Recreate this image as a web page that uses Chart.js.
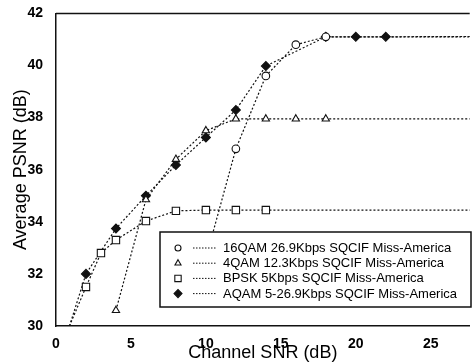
<!DOCTYPE html>
<html>
<head>
<meta charset="utf-8">
<script src="https://cdn.jsdelivr.net/npm/chart.js@4/dist/chart.umd.min.js"></script>
<style>
  body { margin: 0; background: #fff; }
  #wrap { width: 475px; height: 362px; }
</style>
</head>
<body>
<div id="wrap"><canvas id="psnrChart" width="475" height="362"></canvas></div>
<script>
// values
const labels = [
  '16QAM 26.9Kbps SQCIF Miss-America',
  '4QAM 12.3Kbps SQCIF Miss-America',
  'BPSK 5Kbps SQCIF Miss-America',
  'AQAM 5-26.9Kbps SQCIF Miss-America'
]
const snr16 = [10, 12, 14, 16, 18, 30]
const psnr16 = [32.6, 36.8, 39.6, 40.8, 41.1, 41.1]
const snr4 = [4, 6, 8, 10, 12, 14, 16, 18, 30]
const psnr4 = [30.6, 34.85, 36.4, 37.5, 37.95, 37.95, 37.95, 37.95, 37.95]
const snrBpsk = [0.9, 2, 3, 4, 6, 8, 10, 12, 14, 30]
const psnrBpsk = [30, 31.5, 32.8, 33.3, 34.03, 34.42, 34.45, 34.45, 34.45, 34.45]
const snrAqam = [0.9, 2, 4, 6, 8, 10, 12, 14, 18, 20, 22, 30]
const psnrAqam = [30, 32, 33.74, 35.0, 36.18, 37.24, 38.29, 39.98, 41.1, 41.1, 41.1, 41.12]
const xTicks = [0, 5, 10, 15, 20, 25]
const yTicks = [30, 32, 34, 36, 38, 40, 42]

const toPoints = (xs, ys) => xs.map((x, i) => ({ x: x, y: ys[i] }))
// no marker on the line ends that run off the plot
const radii = (xs, r) => xs.map(x => (x < 1 || x > 28) ? 0 : r)

const ink = '#111'
const fontFam = '"Liberation Sans", Arial, sans-serif'

const makeSet = (label, xs, ys, style, r, fill) => ({
  label: label,
  data: toPoints(xs, ys),
  showLine: true,
  borderColor: ink,
  borderWidth: 1.2,
  borderDash: [2, 2],
  pointStyle: style,
  pointRadius: radii(xs, r),
  pointBackgroundColor: fill,
  pointBorderColor: ink,
  pointBorderWidth: 1.1
})

const datasets = [
  makeSet(labels[0], snr16, psnr16, 'circle', 3.8, '#fff'),
  makeSet(labels[1], snr4, psnr4, 'triangle', 4.2, '#fff'),
  makeSet(labels[2], snrBpsk, psnrBpsk, 'rect', 5.2, '#fff'),
  makeSet(labels[3], snrAqam, psnrAqam, 'rectRot', 4.5, ink)
]

const boxLegend = {
  id: 'boxLegend',
  afterDatasetsDraw(chart) {
    const ctx = chart.ctx
    const area = chart.chartArea
    ctx.save()
    // top frame line
    ctx.strokeStyle = ink
    ctx.lineWidth = 1.5
    ctx.beginPath()
    ctx.moveTo(area.left, area.top)
    ctx.lineTo(area.right, area.top)
    ctx.stroke()

    const bx = 160, by = 232, bw = 311, bh = 75
    ctx.fillStyle = '#fff'
    ctx.fillRect(bx, by, bw, bh)
    ctx.strokeRect(bx, by, bw, bh)

    const legendR = [3, 3.5, 4.5, 4]
    chart.data.datasets.forEach((ds, i) => {
      const y = 248 + i * 15.2
      ctx.fillStyle = ds.pointBackgroundColor
      ctx.strokeStyle = ink
      ctx.lineWidth = 1.1
      ctx.setLineDash([])
      Chart.helpers.drawPoint(ctx, {
        pointStyle: ds.pointStyle, radius: legendR[i], rotation: 0, borderWidth: 1.1
      }, 178, y)
      ctx.lineWidth = 1
      ctx.setLineDash([1.5, 1.5])
      ctx.beginPath()
      ctx.moveTo(193, y)
      ctx.lineTo(217, y)
      ctx.stroke()
      ctx.setLineDash([])
      ctx.fillStyle = '#000'
      ctx.font = '13px ' + fontFam
      ctx.textBaseline = 'middle'
      ctx.fillText(ds.label, 223, y + 0.5)
    })
    ctx.restore()
  }
}

new Chart(document.getElementById('psnrChart'), {
  type: 'scatter',
  data: { datasets: datasets },
  options: {
    responsive: false,
    animation: false,
    layout: { padding: { top: 12, right: 0, left: 0, bottom: 0 } },
    plugins: { legend: { display: false }, tooltip: { enabled: false } },
    scales: {
      x: {
        type: 'linear',
        min: 0,
        max: 27.6,
        afterFit: s => { s.height = 36 },
        afterBuildTicks: s => { s.ticks = xTicks.map(v => ({ value: v })) },
        grid: { display: false },
        border: { display: true, color: ink, width: 1.5 },
        ticks: {
          includeBounds: false,
          padding: 2,
          color: '#000',
          font: { family: fontFam, size: 14, weight: 'bold' }
        },
        title: {
          display: true,
          text: 'Channel SNR (dB)',
          color: '#000',
          padding: { top: 0, bottom: 0 },
          font: { family: fontFam, size: 18, lineHeight: 1 }
        }
      },
      y: {
        min: 30,
        max: 42,
        afterFit: s => { s.width = 56 },
        afterBuildTicks: s => { s.ticks = yTicks.map(v => ({ value: v })) },
        grid: { display: false },
        border: { display: true, color: ink, width: 1.5 },
        ticks: {
          padding: 5,
          color: '#000',
          font: { family: fontFam, size: 14, weight: 'bold' }
        },
        title: {
          display: true,
          text: 'Average PSNR (dB)',
          color: '#000',
          padding: { top: 12, bottom: 0 },
          font: { family: fontFam, size: 18, lineHeight: 1 }
        }
      }
    }
  },
  plugins: [boxLegend]
})
</script>
</body>
</html>
